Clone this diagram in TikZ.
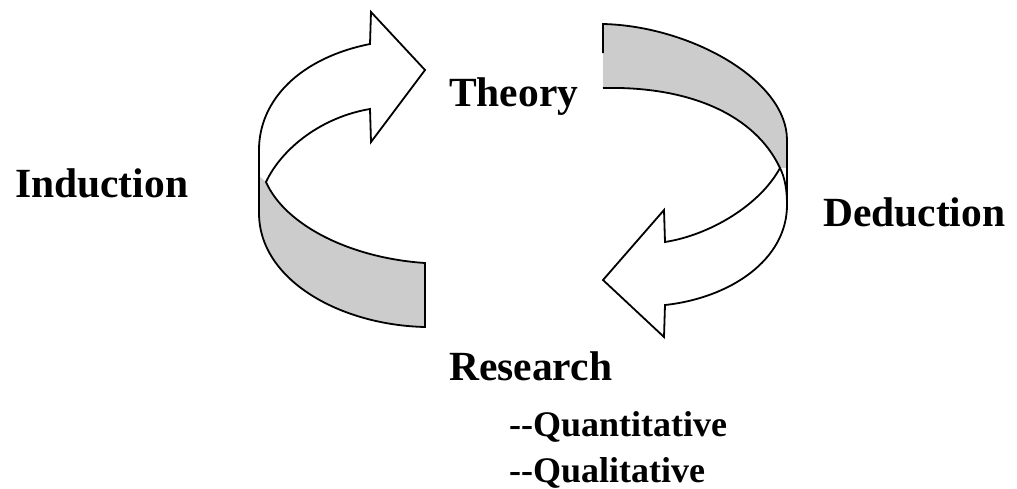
\documentclass[tikz,border=0pt]{standalone}
\usepackage{fontspec}
\setmainfont{Liberation Serif}
\definecolor{band}{RGB}{204,204,204}
\begin{document}
\begin{tikzpicture}[x=1pt,y=-1pt,
  outline/.style={line width=1.8pt, line join=miter},
  lbl/.style={anchor=base west, inner sep=0pt, font=\bfseries\fontsize{41.5}{48}\selectfont},
  sublbl/.style={anchor=base west, inner sep=0pt, font=\bfseries\fontsize{36}{44}\selectfont}]
\useasboundingbox (0,0) rectangle (1017,488);

% ---- left arrow (Induction) ----
\fill[band] (259,176) -- (266,182) .. controls (285,225) and (350,258) .. (425,263)
  -- (425,327) .. controls (340,325) and (259,280) .. (259,213) -- cycle;
\draw[outline] (370,109) .. controls (322,117) and (282,148) .. (266,182)
  .. controls (285,225) and (350,258) .. (425,263) -- (425,327)
  .. controls (340,325) and (259,280) .. (259,213) -- (259,150)
  .. controls (259,100) and (300,58) .. (370,44) -- (371,12) -- (425,70) -- (371,142) -- cycle;

% ---- right arrow (Deduction) ----
\fill[band] (603,24) .. controls (690,26) and (787,80) .. (787,140) -- (787,205)
  .. controls (787,190) and (785,178) .. (780,168)
  .. controls (755,115) and (690,86) .. (603,88) -- cycle;
\fill[white] (780,168) -- (787,168) -- (787,205) .. controls (787,260) and (730,298) .. (665,305)
  -- (664,337) -- (603,280) -- (664,210) -- (665,242)
  .. controls (710,235) and (760,205) .. (780,168) -- cycle;
\draw[outline] (603,53) -- (603,24) .. controls (690,26) and (787,80) .. (787,140) -- (787,205)
  .. controls (787,260) and (730,298) .. (665,305) -- (664,337) -- (603,280) -- (664,210) -- (665,242)
  .. controls (710,235) and (760,205) .. (780,168);
\draw[outline] (603,88) .. controls (690,86) and (755,115) .. (780,168)
  .. controls (785,178) and (787,190) .. (787,205);

% ---- labels ----
\node[lbl] (theory) at (449,106) {Theory};
\node[lbl] (induction) at (15,197) {Induction};
\node[lbl] (deduction) at (823,226) {Deduction};
\node[lbl] (research) at (449,380) {Research};
\node[sublbl] (quant) at (509,436) {-{}-Quantitative};
\node[sublbl] (qual) at (509,482) {-{}-Qualitative};
\end{tikzpicture}
\end{document}
